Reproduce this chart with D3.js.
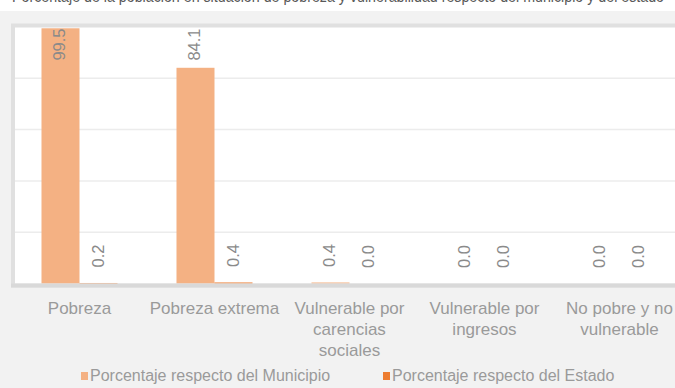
<!DOCTYPE html>
<html>
<head>
<meta charset="utf-8">
<script src="https://cdn.jsdelivr.net/npm/d3@7"></script>
<style>
  html, body { margin: 0; padding: 0; background: #fff; overflow: hidden; }
  svg { display: block; font-family: "Liberation Sans", Arial, sans-serif; }
</style>
</head>
<body>
<svg id="chart" width="675" height="388"></svg>
<script>
// Poverty and vulnerability indicators, municipality vs. state
const title = "Porcentaje de la población en situación de pobreza y vulnerabilidad respecto del municipio y del estado";
const categories = ["Pobreza", "Pobreza extrema", "Vulnerable por carencias sociales", "Vulnerable por ingresos", "No pobre y no vulnerable"];
const seriesNames = ["Porcentaje respecto del Municipio", "Porcentaje respecto del Estado"];
const municipio = [99.5, 84.1, 0.4, 0.0, 0.0];
const estado = [0.2, 0.4, 0.0, 0.0, 0.0];
const yTicks = [0, 20, 40, 60, 80, 100];
const colors = ["#f4b183", "#ed7d31"];

const W = 675, H = 388;
const plot = { left: 13, top: 25.5, right: 700, bottom: 285.5 };
const zeroY = 283.5, topY = 27;

const svg = d3.select("#chart");

// white title strip above the grey panel
svg.append("rect").attr("x", 0).attr("y", 0).attr("width", W).attr("height", H).attr("fill", "#ffffff");
svg.append("text")
  .attr("x", 12).attr("y", 2)
  .attr("textLength", 652).attr("lengthAdjust", "spacingAndGlyphs")
  .attr("font-size", 17).attr("fill", "#595959")
  .text(title);

svg.append("rect").attr("x", 0).attr("y", 11).attr("width", W).attr("height", H - 11).attr("fill", "#f2f2f2");

// plot area
svg.append("rect")
  .attr("x", plot.left).attr("y", plot.top)
  .attr("width", plot.right - plot.left).attr("height", plot.bottom - plot.top)
  .attr("fill", "#ffffff").attr("stroke", "#e0e0e0").attr("stroke-width", 4);

const x0 = d3.scaleBand().domain(categories).range([12, 687]).paddingInner(0.437).paddingOuter(0.2185);
const x1 = d3.scaleBand().domain(seriesNames).range([0, x0.bandwidth()]);
const y = d3.scaleLinear().domain([0, 100]).range([zeroY, topY]);

// horizontal gridlines
svg.append("g").selectAll("line")
  .data(yTicks.filter(t => t > 0 && t < 100))
  .join("line")
  .attr("x1", plot.left + 2).attr("x2", W)
  .attr("y1", d => y(d)).attr("y2", d => y(d))
  .attr("stroke", "#ececec").attr("stroke-width", 1.5);

const rows = categories.map((c, i) => ({ cat: c, values: [municipio[i], estado[i]] }));
const fmt = d3.format(".1f");

const groups = svg.append("g").selectAll("g")
  .data(rows).join("g")
  .attr("transform", d => `translate(${x0(d.cat)},0)`);

groups.selectAll("rect")
  .data(d => d.values.map((v, k) => ({ v, k })))
  .join("rect")
  .attr("x", d => x1(seriesNames[d.k]))
  .attr("width", x1.bandwidth())
  .attr("y", d => y(d.v))
  .attr("height", d => zeroY - y(d.v))
  .attr("fill", d => colors[d.k]);

// rotated value labels above each bar, kept inside the plot area
groups.selectAll("text")
  .data(d => d.values.map((v, k) => ({ v, k })))
  .join("text")
  .attr("transform", d => {
    const cx = x1(seriesNames[d.k]) + x1.bandwidth() / 2 - 1;
    const cy = Math.max(y(d.v) - 27, 44.5);
    return `translate(${cx},${cy}) rotate(-90)`;
  })
  .attr("text-anchor", "middle")
  .attr("dominant-baseline", "central")
  .attr("font-size", 16.5)
  .attr("fill", "#8a8a8a")
  .text(d => fmt(d.v));

// bottom axis line
svg.append("line")
  .attr("x1", plot.left - 2).attr("x2", W)
  .attr("y1", 285.5).attr("y2", 285.5)
  .attr("stroke", "#d9d9d9").attr("stroke-width", 4);

// category labels, wrapped to the band width
const wrapWidth = 134;
const catLabels = svg.append("g").selectAll("text")
  .data(categories).join("text")
  .attr("x", d => x0(d) + x0.bandwidth() / 2)
  .attr("y", 308)
  .attr("text-anchor", "middle")
  .attr("dominant-baseline", "central")
  .attr("font-size", 17)
  .attr("fill", "#9a9a9a");

catLabels.each(function(d) {
  const el = d3.select(this);
  const words = d.split(" ");
  const cx = +el.attr("x");
  let line = [];
  let lineNo = 0;
  let tspan = el.append("tspan").attr("x", cx).attr("dy", 0);
  words.forEach(w => {
    line.push(w);
    tspan.text(line.join(" "));
    if (tspan.node().getComputedTextLength() > wrapWidth && line.length > 1) {
      line.pop();
      tspan.text(line.join(" "));
      line = [w];
      lineNo++;
      tspan = el.append("tspan").attr("x", cx).attr("dy", 21).text(w);
    }
  });
});

// legend
const legendX = [81, 383];
const legend = svg.append("g").selectAll("g")
  .data(seriesNames).join("g")
  .attr("transform", (d, i) => `translate(${legendX[i]},0)`);
legend.append("rect")
  .attr("x", 0).attr("y", 372).attr("width", 7).attr("height", 8)
  .attr("fill", (d, i) => colors[i]);
legend.append("text")
  .attr("x", 9).attr("y", 375.5)
  .attr("dominant-baseline", "central")
  .attr("font-size", 16)
  .attr("fill", "#9a9a9a")
  .text(d => d);
</script>
</body>
</html>
